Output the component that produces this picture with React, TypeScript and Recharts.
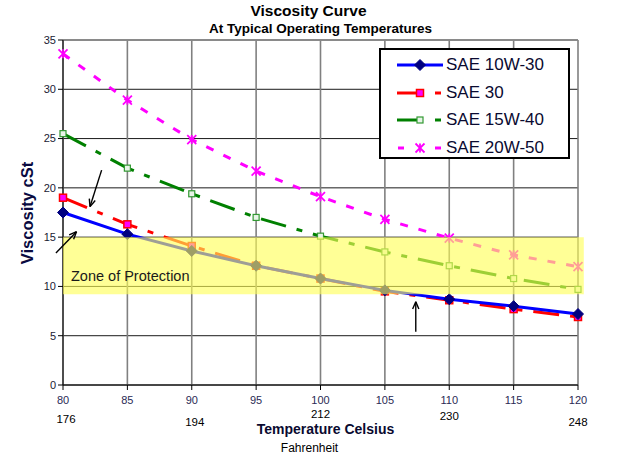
import React from "react";
import {
  LineChart,
  Line,
  XAxis,
  YAxis,
  CartesianGrid,
  ReferenceArea,
  ReferenceLine,
} from "recharts";

const celsius = [80, 85, 90, 95, 100, 105, 110, 115, 120];
const sae10w30 = [17.5, 15.3, 13.6, 12.1, 10.8, 9.6, 8.7, 8.0, 7.2];
const sae30 = [19.0, 16.3, 14.1, 12.1, 10.8, 9.5, 8.6, 7.7, 6.9];
const sae15w40 = [25.5, 22.0, 19.4, 17.0, 15.1, 13.5, 12.1, 10.8, 9.7];
const sae20w50 = [33.6, 28.9, 24.9, 21.7, 19.1, 16.8, 14.9, 13.2, 12.0];
const yTicks = [0, 5, 10, 15, 20, 25, 30, 35];
const fahrenheit = [
  { c: 80, f: "176" },
  { c: 90, f: "194" },
  { c: 100, f: "212" },
  { c: 110, f: "230" },
  { c: 120, f: "248" },
];
const zone = { low: 9.2, high: 15 };
const arrows = [
  { x1: 83.0, y1: 21.8, x2: 82.1, y2: 18.1 },
  { x1: 79.45, y1: 13.4, x2: 81.05, y2: 15.55 },
  { x1: 107.4, y1: 5.4, x2: 107.4, y2: 8.45 },
];

const data = celsius.map((c, i) => ({
  c,
  a: sae10w30[i],
  b: sae30[i],
  g: sae15w40[i],
  m: sae20w50[i],
}));

const FONT = "'Liberation Sans', Arial, sans-serif";

const Diamond = (props: any) => {
  const { cx, cy } = props;
  if (cx == null || cy == null) return null;
  const r = 5.5;
  return (
    <path
      d={`M${cx},${cy - r}L${cx + r},${cy}L${cx},${cy + r}L${cx - r},${cy}Z`}
      fill="#000080"
      stroke="#000080"
    />
  );
};
const PinkSquare = (props: any) => {
  const { cx, cy } = props;
  if (cx == null || cy == null) return null;
  return (
    <rect x={cx - 3.5} y={cy - 3.5} width={7} height={7} fill="#ff00ff" stroke="#ff0000" strokeWidth={1.5} />
  );
};
const GreenSquare = (props: any) => {
  const { cx, cy } = props;
  if (cx == null || cy == null) return null;
  return (
    <rect x={cx - 3} y={cy - 3} width={6} height={6} fill="#e8f4e8" stroke="#339933" strokeWidth={1.2} />
  );
};
const Star = (props: any) => {
  const { cx, cy } = props;
  if (cx == null || cy == null) return null;
  const r = 4.5;
  return (
    <g stroke="#ff00ff" strokeWidth={1.8}>
      <line x1={cx - r} y1={cy - r} x2={cx + r} y2={cy + r} />
      <line x1={cx - r} y1={cy + r} x2={cx + r} y2={cy - r} />
      <line x1={cx} y1={cy - r} x2={cx} y2={cy + r} />
    </g>
  );
};

const Arrow = (props: any) => {
  const { x1, y1, x2, y2 } = props;
  if ([x1, y1, x2, y2].some((v) => v == null || isNaN(v))) return null;
  const ang = Math.atan2(y2 - y1, x2 - x1);
  const L = 8;
  const a1 = ang + Math.PI - 0.4;
  const a2 = ang + Math.PI + 0.4;
  return (
    <g stroke="#000" strokeWidth={1.4} fill="none">
      <line x1={x1} y1={y1} x2={x2} y2={y2} />
      <line x1={x2} y1={y2} x2={x2 + L * Math.cos(a1)} y2={y2 + L * Math.sin(a1)} />
      <line x1={x2} y1={y2} x2={x2 + L * Math.cos(a2)} y2={y2 + L * Math.sin(a2)} />
    </g>
  );
};

const ArrowShape = (props: any) => {
  const seg = props.segment || [];
  let x1 = props.x1, y1 = props.y1, x2 = props.x2, y2 = props.y2;
  if (x1 == null && seg.length === 2) {
    x1 = seg[0].x; y1 = seg[0].y; x2 = seg[1].x; y2 = seg[1].y;
  }
  return <Arrow x1={x1} y1={y1} x2={x2} y2={y2} />;
};

const legendItems = [
  { name: "SAE 10W-30", color: "#0000ff", marker: "diamond" },
  { name: "SAE 30", color: "#ff0000", marker: "pink" },
  { name: "SAE 15W-40", color: "#008000", marker: "green" },
  { name: "SAE 20W-50", color: "#ff00ff", marker: "star" },
];

const LegendBox = () => (
  <div
    style={{
      position: "absolute",
      left: 379,
      top: 48,
      width: 187,
      height: 107,
      border: "2px solid #000",
      background: "#fff",
      fontFamily: FONT,
    }}
  >
    {legendItems.map((it, i) => (
      <div
        key={it.name}
        style={{ position: "absolute", left: 14, top: 3 + i * 27.5, height: 24, display: "flex", alignItems: "center" }}
      >
        <svg width={50} height={20} style={{ display: "block" }}>
          {it.marker === "diamond" && (
            <>
              <line x1={2} y1={10} x2={48} y2={10} stroke={it.color} strokeWidth={3} />
              <Diamond cx={25} cy={10} />
            </>
          )}
          {it.marker === "pink" && (
            <>
              <line x1={2} y1={10} x2={25} y2={10} stroke={it.color} strokeWidth={3} />
              <line x1={40} y1={10} x2={46} y2={10} stroke={it.color} strokeWidth={3} />
              <PinkSquare cx={25} cy={10} />
            </>
          )}
          {it.marker === "green" && (
            <>
              <line x1={2} y1={10} x2={25} y2={10} stroke={it.color} strokeWidth={3} />
              <line x1={40} y1={10} x2={46} y2={10} stroke={it.color} strokeWidth={3} />
              <GreenSquare cx={25} cy={10} />
            </>
          )}
          {it.marker === "star" && (
            <>
              <line x1={3} y1={10} x2={9} y2={10} stroke={it.color} strokeWidth={3} />
              <line x1={40} y1={10} x2={46} y2={10} stroke={it.color} strokeWidth={3} />
              <Star cx={25} cy={10} />
            </>
          )}
        </svg>
        <span style={{ fontSize: 17, color: "#0a0a30", marginLeft: 1, whiteSpace: "nowrap" }}>{it.name}</span>
      </div>
    ))}
  </div>
);

const XTick = (props: any) => {
  const { x, y, payload } = props;
  return (
    <text x={x} y={y + 12} textAnchor="middle" fontSize={11} fill="#2a2a55" fontFamily={FONT}>
      {payload.value}
    </text>
  );
};

export default function App() {
  const W = 633;
  const H = 459;
  const fTops: Record<string, number> = { "176": 420, "194": 423, "212": 415, "230": 417, "248": 423 };
  const xPix = (c: number) => 63 + ((c - 80) / 40) * 515;
  return (
    <div style={{ position: "absolute", left: 0, top: 0, width: W, height: H, background: "#fff", fontFamily: FONT }}>
      <LineChart width={W} height={H} data={data} margin={{ top: 40, right: 55, bottom: 0, left: 0 }}>
        <CartesianGrid horizontal={true} vertical={false} stroke="#1a1a1a" strokeWidth={1} />
        <CartesianGrid horizontal={false} vertical={true} stroke="#808080" strokeWidth={1.6} verticalValues={celsius} />
        <ReferenceLine y={35} stroke="#8a8a8a" strokeWidth={1.6} />
        <XAxis
          dataKey="c"
          type="number"
          domain={[80, 120]}
          ticks={celsius}
          interval={0}
          axisLine={{ stroke: "#000", strokeWidth: 1 }}
          tickLine={{ stroke: "#000" }}
          tickSize={5}
          tick={<XTick />}
          height={74}
        />
        <YAxis
          type="number"
          domain={[0, 35]}
          ticks={yTicks}
          interval={0}
          width={63}
          axisLine={{ stroke: "#000", strokeWidth: 1 }}
          tickLine={{ stroke: "#000" }}
          tickSize={5}
          tick={{ fontSize: 11, fill: "#1a1a33", fontFamily: FONT }}
        />
        <Line dataKey="m" stroke="#ff00ff" strokeWidth={3} strokeDasharray="8 11" dot={<Star />} isAnimationActive={false} />
        <Line dataKey="g" stroke="#008000" strokeWidth={3} strokeDasharray="26 11 6 11" dot={<GreenSquare />} isAnimationActive={false} />
        <Line dataKey="b" stroke="#ff0000" strokeWidth={3} strokeDasharray="26 11 6 11" dot={<PinkSquare />} isAnimationActive={false} />
        <Line dataKey="a" stroke="#0000ff" strokeWidth={3} dot={<Diamond />} isAnimationActive={false} />
        <ReferenceArea
          x1={80}
          x2={120.45}
          y1={zone.low}
          y2={zone.high}
          fill="#ffff55"
          fillOpacity={0.62}
          stroke="none"
          ifOverflow="visible"
          {...({ zIndex: 1000 } as any)}
        />
        {arrows.map((a, i) => (
          <ReferenceLine
            key={i}
            segment={[{ x: a.x1, y: a.y1 }, { x: a.x2, y: a.y2 }]}
            ifOverflow="visible"
            shape={ArrowShape}
            {...({ zIndex: 1100 } as any)}
          />
        ))}
      </LineChart>
      <div style={{ position: "absolute", left: 0, width: W, top: 2, textAlign: "center", fontSize: 15.5, fontWeight: "bold", color: "#000" }}>
        <span style={{ position: "relative", left: -8 }}>Viscosity Curve</span>
      </div>
      <div style={{ position: "absolute", left: 0, width: W, top: 21, textAlign: "center", fontSize: 13.5, fontWeight: "bold", color: "#000" }}>
        <span style={{ position: "relative", left: 4 }}>At Typical Operating Temperatures</span>
      </div>
      <div
        style={{
          position: "absolute",
          left: 27,
          top: 213,
          transform: "translate(-50%, -50%) rotate(-90deg)",
          fontSize: 16.5,
          fontWeight: "bold",
          color: "#0a0a40",
          whiteSpace: "nowrap",
        }}
      >
        Viscosity cSt
      </div>
      <div style={{ position: "absolute", left: 71, top: 268, fontSize: 14.5, color: "#1a1a1a" }}>Zone of Protection</div>
      {fahrenheit.map((f) => (
        <div
          key={f.f}
          style={{
            position: "absolute",
            left: xPix(f.c) + (f.c === 80 || f.c === 90 ? 3 : 0),
            top: fTops[f.f] - 7,
            transform: "translateX(-50%)",
            fontSize: 11.5,
            color: "#000",
          }}
        >
          {f.f}
        </div>
      ))}
      <div style={{ position: "absolute", left: 0, width: W, top: 421, textAlign: "center", fontSize: 14, fontWeight: "bold", color: "#0a0a30" }}>
        <span style={{ position: "relative", left: 9 }}>Temperature Celsius</span>
      </div>
      <div style={{ position: "absolute", left: 0, width: W, top: 441, textAlign: "center", fontSize: 12, color: "#000" }}>
        <span style={{ position: "relative", left: -7 }}>Fahrenheit</span>
      </div>
      <LegendBox />
    </div>
  );
}
